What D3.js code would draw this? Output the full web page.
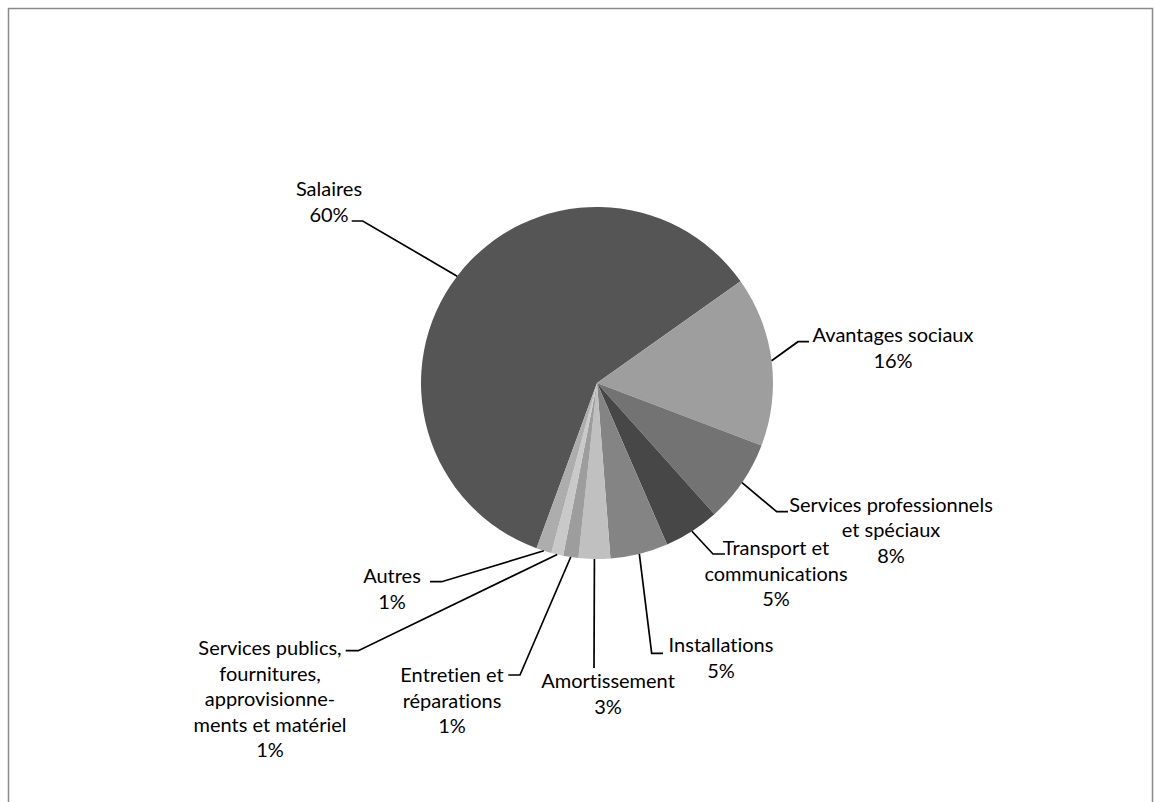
<!DOCTYPE html>
<html>
<head>
<meta charset="utf-8">
<script src="https://cdn.jsdelivr.net/npm/d3@7"></script>
<style>
  html, body { margin: 0; padding: 0; background: #ffffff; }
  svg { display: block; }
  .lbl { font-family: Lato, "Open Sans", sans-serif; font-size: 20px; fill: #000000;
         font-variant-ligatures: none; }
</style>
</head>
<body>
<svg id="chart" width="1154" height="802"></svg>
<script>
// Budget breakdown by expense category (percent of total)
const categories = [
  "Salaires",
  "Avantages sociaux",
  "Services professionnels et spéciaux",
  "Transport et communications",
  "Installations",
  "Amortissement",
  "Entretien et réparations",
  "Services publics, fournitures, approvisionnements et matériel",
  "Autres"
];
const shares = [59.6, 15.6, 7.6, 5.1, 5.3, 2.9, 1.4, 1.1, 1.4];

// Category names as they wrap inside each label box
const labelLines = [
  ["Salaires"],
  ["Avantages sociaux"],
  ["Services professionnels", "et spéciaux"],
  ["Transport et", "communications"],
  ["Installations"],
  ["Amortissement"],
  ["Entretien et", "réparations"],
  ["Services publics,", "fournitures,", "approvisionne-", "ments et matériel"],
  ["Autres"]
];

const sliceColors = ["#555555", "#9e9e9e", "#737373", "#474747", "#848484",
                     "#c0c0c0", "#9d9d9d", "#c9c9c9", "#adadad"];

// Label boxes: text centre x, first baseline y, leader elbow and end point
const labelLayout = [
  { x: 329, y: 196, elbow: [362.7, 221], end: [351.7, 221] },
  { x: 893, y: 342, elbow: [798, 341.7], end: [809, 341.7] },
  { x: 891, y: 511.5, elbow: [776.7, 511.7], end: [788, 511.7] },
  { x: 776, y: 555, elbow: [713, 554], end: [725, 554] },
  { x: 721, y: 652, elbow: [651.7, 653.3], end: [663, 653.3] },
  { x: 608, y: 688, elbow: [594, 668], end: [594, 668] },
  { x: 452, y: 682, elbow: [520, 675], end: [508.3, 675] },
  { x: 270, y: 655, elbow: [358.3, 650.7], end: [345.7, 650.7] },
  { x: 392, y: 583, elbow: [441.7, 581.7], end: [430, 581.7] }
];

const W = 1154, H = 802;
const cx = 597, cy = 383, radius = 176;
const firstSliceDeg = 200.1;
const lineGap = 25.5;

const svg = d3.select("#chart");

// chart area frame
svg.append("rect")
  .attr("x", 8.5).attr("y", 8.5)
  .attr("width", W - 10).attr("height", H + 20)
  .attr("fill", "none")
  .attr("stroke", "#8a8a8a")
  .attr("stroke-width", 1.5);

const total = d3.sum(shares);
const data = categories.map((c, i) => ({ name: c, value: shares[i], i }));

const start = firstSliceDeg * Math.PI / 180;
const pie = d3.pie().value(d => d.value).sort(null)
  .startAngle(start).endAngle(start + 2 * Math.PI);
const arcs = pie(data);

const arc = d3.arc().innerRadius(0).outerRadius(radius);
const edge = d3.arc().innerRadius(radius).outerRadius(radius);

const g = svg.append("g").attr("transform", `translate(${cx},${cy})`);

g.selectAll("path.slice")
  .data(arcs)
  .join("path")
  .attr("class", "slice")
  .attr("d", arc)
  .attr("fill", d => sliceColors[d.data.i]);

const pct = d3.format(".0%");

// leader lines: from the slice's outer mid-point to the label
svg.selectAll("path.leader")
  .data(arcs)
  .join("path")
  .attr("class", "leader")
  .attr("fill", "none")
  .attr("stroke", "#000000")
  .attr("stroke-width", 1.7)
  .attr("d", d => {
    const [mx, my] = edge.centroid(d);
    const L = labelLayout[d.data.i];
    return d3.line()([[cx + mx, cy + my], L.elbow, L.end]);
  });

// category and percentage labels
const labels = svg.selectAll("text.lbl")
  .data(arcs)
  .join("text")
  .attr("class", "lbl")
  .attr("text-anchor", "middle");

labels.each(function(d) {
  const L = labelLayout[d.data.i];
  const lines = labelLines[d.data.i].concat([pct(d.data.value / total)]);
  d3.select(this).selectAll("tspan")
    .data(lines)
    .join("tspan")
    .attr("x", L.x)
    .attr("y", (t, k) => L.y + k * lineGap)
    .text(t => t);
});
</script>
</body>
</html>
